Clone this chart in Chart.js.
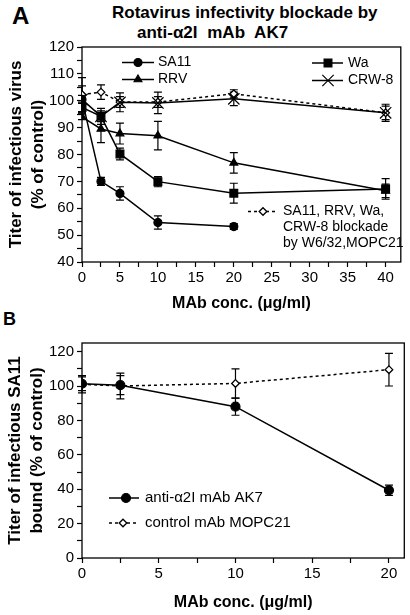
<!DOCTYPE html>
<html>
<head>
<meta charset="utf-8">
<script src="https://cdn.jsdelivr.net/npm/chart.js@4.4.1/dist/chart.umd.min.js"></script>
<style>
html, body { margin: 0; padding: 0; background: #fff; }
body { width: 410px; height: 615px; position: relative; overflow: hidden;
  font-family: "Liberation Sans", Arial, sans-serif; color: #000; }
canvas { position: absolute; left: 0; }
#chartA { top: 0; }
#chartB { top: 315px; }
.txt { position: absolute; font-weight: bold; white-space: nowrap; }
#letterA { left: 12px; top: 4px; font-size: 24px; line-height: 24px; }
#letterB { left: 3px; top: 310px; font-size: 18px; line-height: 18px; }
.ttl { font-size: 17px; line-height: 20px; }
#ttl1 { left: 112px; top: 3px; }
#ttl2 { left: 137px; top: 23px; word-spacing: 5px; }
</style>
</head>
<body>
<div class="txt" id="letterA">A</div>
<div class="txt ttl" id="ttl1">Rotavirus infectivity blockade by</div>
<div class="txt ttl" id="ttl2">anti-α2I mAb AK7</div>
<div class="txt" id="letterB">B</div>
<canvas id="chartA" width="410" height="315"></canvas>
<canvas id="chartB" width="410" height="300"></canvas>
<script>
// panel A: rotavirus titer vs antibody concentration
const concA = [0, 2.5, 5, 10, 20, 40];
const sa11 = [100.5, 70, 65.5, 54.7, 53.2, null];
const sa11Err = [1.5, 1.5, 2.5, 2.5, 1.1, null];
const rrv = [94, 89.5, 87.8, 87, 76.9, 66.5];
const rrvErr = [1, 5.1, 3.9, 5.3, 3.8, 2.5];
const wa = [97.5, 94.2, 80.2, 69.9, 65.6, 67.2];
const waErr = [2, 2, 2.2, 1.9, 3.7, 3.8];
const crw8 = [100.5, 94.2, 99.4, 99.2, 100.7, 95.5];
const crw8Err = [5, 3, 3.5, 4, 2.5, 3.2];
const ctrlA = [102.3, 103.2, 99.5, 99.5, 102.6, 95.5];
const ctrlAErr = [6.3, 2.7, 2, 2, 1.5, 2.5];
const xTicksA = [0, 2.5, 5, 7.5, 10, 12.5, 15, 17.5, 20, 22.5, 25, 27.5, 30, 32.5, 35, 37.5, 40];
const yTicksA = [40, 45, 50, 55, 60, 65, 70, 75, 80, 85, 90, 95, 100, 105, 110, 115, 120];

// panel B: SA11 bound
const concB = [0, 2.5, 10, 20];
const ak7 = [101.3, 100.5, 88, 39.4];
const ak7Err = [4, 5.5, 5, 3];
const mopc = [101, 100, 101.5, 109.5];
const mopcErr = [5, 7.5, 8.5, 9.5];
const xTicksB = [0, 2.5, 5, 7.5, 10, 12.5, 15, 17.5, 20];
const yTicksB = [0, 10, 20, 30, 40, 50, 60, 70, 80, 90, 100, 110, 120];

const FONT = '"Liberation Sans", Arial, sans-serif';
const pts = (xs, ys) => xs.map((x, i) => ({ x: x, y: ys[i] }));

function series(label, xs, ys, errs, style, radius, open, dashed) {
  return {
    label: label,
    data: pts(xs, ys),
    errors: errs,
    borderColor: '#000',
    borderWidth: 1.5,
    borderDash: dashed ? [3, 3] : [],
    pointStyle: style,
    pointRadius: radius,
    pointBackgroundColor: open ? '#fff' : '#000',
    pointBorderColor: '#000',
    pointBorderWidth: open ? 1.3 : 1.2,
    tension: 0,
    spanGaps: false,
  };
}

const errorBars = {
  id: 'errorBars',
  beforeDatasetsDraw(chart) {
    const { ctx, scales: { x, y }, chartArea: a } = chart;
    ctx.save();
    ctx.strokeStyle = '#000';
    ctx.lineWidth = 1.3;
    ctx.strokeRect(a.left, a.top, a.right - a.left, a.bottom - a.top);
    ctx.lineWidth = 1.2;
    chart.data.datasets.forEach(ds => {
      if (!ds.errors) return;
      ds.data.forEach((p, i) => {
        const e = ds.errors[i];
        if (p.y == null || !e) return;
        const px = x.getPixelForValue(p.x);
        const t = y.getPixelForValue(p.y + e);
        const b = y.getPixelForValue(p.y - e);
        ctx.beginPath();
        ctx.moveTo(px, t); ctx.lineTo(px, b);
        ctx.moveTo(px - 4, t); ctx.lineTo(px + 4, t);
        ctx.moveTo(px - 4, b); ctx.lineTo(px + 4, b);
        ctx.stroke();
      });
    });
    ctx.restore();
  }
};

const keyBox = {
  id: 'keyBox',
  afterDraw(chart, args, opts) {
    const ctx = chart.ctx;
    ctx.save();
    (opts.items || []).forEach(it => {
      const ds = chart.data.datasets[it.ds];
      ctx.strokeStyle = '#000';
      ctx.lineWidth = 1.5;
      ctx.setLineDash(ds.borderDash);
      ctx.beginPath();
      ctx.moveTo(it.x1, it.y); ctx.lineTo(it.x2, it.y);
      ctx.stroke();
      ctx.setLineDash([]);
      ctx.fillStyle = ds.pointBackgroundColor;
      ctx.lineWidth = ds.pointBorderWidth;
      Chart.helpers.drawPoint(ctx, { pointStyle: ds.pointStyle, radius: ds.pointRadius, rotation: 0, borderWidth: ds.pointBorderWidth }, it.mx, it.y);
      ctx.fillStyle = '#000';
      ctx.font = opts.size + 'px ' + FONT;
      ctx.textBaseline = 'middle';
      ctx.textAlign = 'left';
      it.lines.forEach((ln, k) => ctx.fillText(ln, it.tx, it.y + k * opts.lineGap));
    });
    ctx.restore();
  }
};

function axis(min, max, ticks, step, pos, title, tpad) {
  return {
    type: 'linear', position: pos, min: min, max: max,
    afterBuildTicks: s => { s.ticks = ticks.map(v => ({ value: v })); },
    ticks: {
      autoSkip: false, maxRotation: 0, color: '#000', padding: pos === 'left' ? 3 : 2,
      font: { family: FONT, size: 15 },
      callback: v => (v % step === 0 ? String(v) : ''),
    },
    grid: { display: true, drawOnChartArea: false, drawTicks: true, tickLength: 5, tickWidth: 1.2, tickColor: '#000' },
    border: { display: false },
    title: {
      display: true, text: title, color: '#000',
      font: { family: FONT, size: pos === 'left' ? 17 : 16, weight: 'bold', lineHeight: pos === 'left' ? 1.25 : 1.2 },
      padding: tpad,
    },
  };
}

new Chart(document.querySelector('#chartA'), {
  type: 'line',
  data: {
    datasets: [
      series('SA11', concA, sa11, sa11Err, 'circle', 4, false, false),
      series('RRV', concA, rrv, rrvErr, 'triangle', 4.5, false, false),
      series('Wa', concA, wa, waErr, 'rect', 5.5, false, false),
      series('CRW-8', concA, crw8, crw8Err, 'crossRot', 8, false, false),
      series('SA11, RRV, Wa, CRW-8 blockade by W6/32,MOPC21', concA, ctrlA, ctrlAErr, 'rectRot', 3.8, true, true),
    ],
  },
  options: {
    responsive: false, animation: false, devicePixelRatio: 1,
    layout: { padding: { top: 47, right: 5, bottom: 0, left: 0 } },
    scales: {
      x: Object.assign(axis(0, 42, xTicksA, 5, 'bottom', 'MAb conc. (μg/ml)', { top: 0, bottom: 1.5 }),
        { afterFit: s => { s.height = 53; } }),
      y: Object.assign(axis(40, 120, yTicksA, 10, 'left', ['Titer of infectious virus', '(% of control)'], { top: 6, bottom: 0 }),
        { afterFit: s => { s.width = 82; } }),
    },
    plugins: {
      legend: { display: false },
      tooltip: { enabled: false },
      keyBox: {
        size: 14, lineGap: 16,
        items: [
          { ds: 0, x1: 122, x2: 154, mx: 138, y: 62.5, tx: 158, lines: ['SA11'] },
          { ds: 1, x1: 122, x2: 154, mx: 138, y: 79.5, tx: 158, lines: ['RRV'] },
          { ds: 2, x1: 312, x2: 343, mx: 328, y: 63, tx: 348, lines: ['Wa'] },
          { ds: 3, x1: 312, x2: 343, mx: 328, y: 80.5, tx: 348, lines: ['CRW-8'] },
          { ds: 4, x1: 248, x2: 278, mx: 263, y: 211.5, tx: 283, lines: ['SA11, RRV, Wa,', 'CRW-8 blockade', 'by W6/32,MOPC21'] },
        ],
      },
    },
  },
  plugins: [errorBars, keyBox],
});

new Chart(document.querySelector('#chartB'), {
  type: 'line',
  data: {
    datasets: [
      series('anti-α2I mAb AK7', concB, ak7, ak7Err, 'circle', 4.5, false, false),
      series('control mAb MOPC21', concB, mopc, mopcErr, 'rectRot', 3.8, true, true),
    ],
  },
  options: {
    responsive: false, animation: false, devicePixelRatio: 1,
    layout: { padding: { top: 28, right: 5, bottom: 0, left: 0 } },
    scales: {
      x: Object.assign(axis(0, 21, xTicksB, 5, 'bottom', 'MAb conc. (μg/ml)', { top: 0, bottom: 3 }),
        { afterFit: s => { s.height = 57; } }),
      y: Object.assign(axis(0, 125, yTicksB, 20, 'left', ['Titer of infectious SA11', 'bound (% of control)'], { top: 5, bottom: 0 }),
        { afterFit: s => { s.width = 82; } }),
    },
    plugins: {
      legend: { display: false },
      tooltip: { enabled: false },
      keyBox: {
        size: 15, lineGap: 16,
        items: [
          { ds: 0, x1: 109, x2: 139, mx: 126, y: 183, tx: 145, lines: ['anti-α2I mAb AK7'] },
          { ds: 1, x1: 109, x2: 139, mx: 123, y: 208, tx: 145, lines: ['control mAb MOPC21'] },
        ],
      },
    },
  },
  plugins: [errorBars, keyBox],
});
</script>
</body>
</html>
